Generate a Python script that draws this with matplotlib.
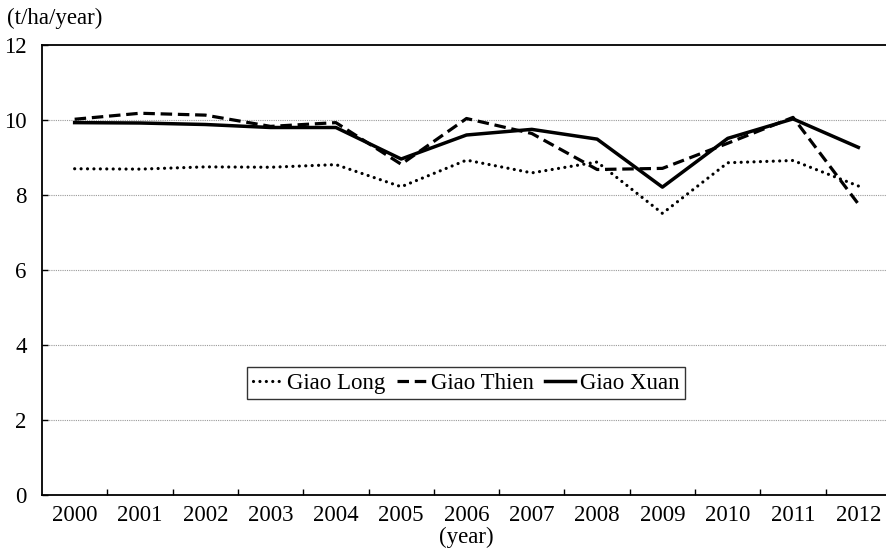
import numpy as np
import matplotlib.pyplot as plt

years = ["2000", "2001", "2002", "2003", "2004", "2005", "2006",
         "2007", "2008", "2009", "2010", "2011", "2012"]

giao_long = [8.70, 8.69, 8.75, 8.74, 8.81, 8.22, 8.93, 8.59, 8.88, 7.51, 8.86, 8.92, 8.24]
giao_thien = [10.02, 10.18, 10.13, 9.83, 9.93, 8.82, 10.04, 9.64, 8.68, 8.71, 9.38, 10.07, 7.76]
giao_xuan = [9.93, 9.92, 9.88, 9.80, 9.80, 8.96, 9.60, 9.75, 9.49, 8.21, 9.51, 10.03, 9.27]

plt.rcParams['font.family'] = ['Liberation Serif', 'DejaVu Serif']
plt.rcParams['font.size'] = 16.5

fig = plt.figure(figsize=(8.87, 5.49), dpi=100)
ax = fig.add_axes([42 / 887, 54 / 549, 849 / 887, 450 / 549])

x = np.arange(len(years))
ax.plot(x, giao_long, color="black", lw=2.3, linestyle=(0, (0.01, 2.0)),
        dash_capstyle="round", label="Giao Long")
ax.plot(x, giao_thien, color="black", lw=2.3, linestyle=(0, (3.6, 1.8)),
        label="Giao Thien")
ax.plot(x, giao_xuan, color="black", lw=2.5, label="Giao Xuan")

ax.set_xlim(-0.5, len(years) - 0.5)
ax.set_ylim(0, 12)
ax.set_yticks([0, 2, 4, 6, 8, 10, 12])
ax.set_xticks(x)
ax.set_xticklabels(years)
ax.set_xticks(x[:-1] + 0.5, minor=True)

ax.tick_params(axis="x", which="major", length=0, pad=7)
ax.tick_params(axis="x", which="minor", direction="in", length=4, width=1)
ax.tick_params(axis="y", direction="in", length=4, width=1, pad=11)

for g in [2, 4, 6, 8, 10]:
    ax.axhline(g, color="#999999", lw=0.8, linestyle=(0, (1, 1)), zorder=0)

for s in ["left", "bottom", "top"]:
    ax.spines[s].set_linewidth(1.3)
ax.spines["right"].set_visible(False)

fig.text(7 / 887, 1 - 18 / 549, "(t/ha/year)", ha="left", va="center")
fig.text(466 / 887, 1 - 537 / 549, "(year)", ha="center", va="center")

leg = ax.legend(loc="center", bbox_to_anchor=(424 / 849, 1 - (383 - 45) / 450),
                ncol=3, frameon=True, fancybox=False, handlelength=1.3,
                handletextpad=0.2, columnspacing=0.5, borderpad=0.25,
                borderaxespad=0)
leg.get_frame().set_edgecolor("black")
leg.get_frame().set_linewidth(1.0)

fig.savefig("out.png", dpi=100)
